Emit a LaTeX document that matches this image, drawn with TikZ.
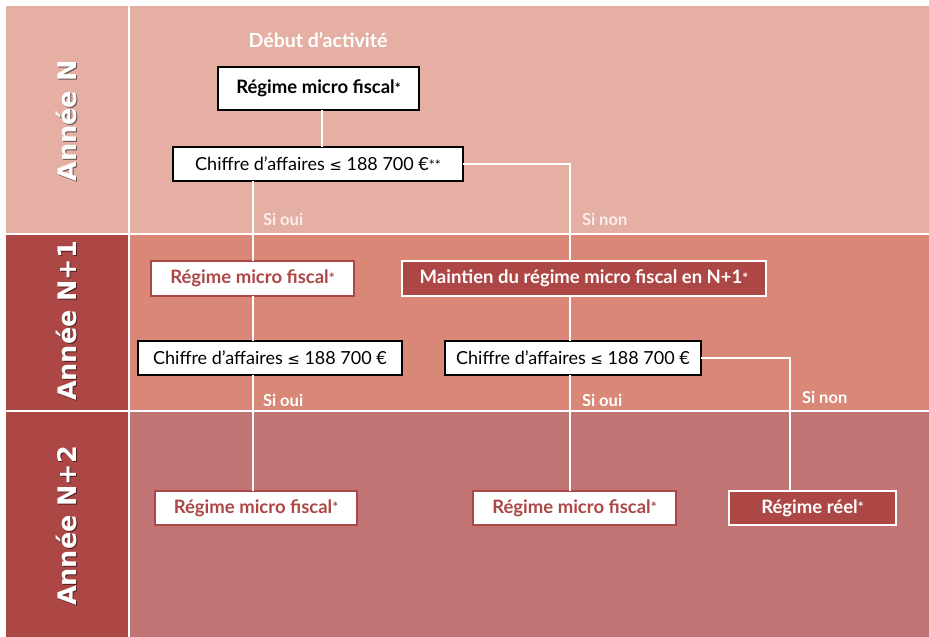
\documentclass[tikz,border=0pt]{standalone}
\usepackage{fontspec}
\setmainfont{Lato}
\newfontfamily\symf{DejaVu Sans}
\newfontfamily\yearf{DejaVu Sans}
\usetikzlibrary{calc}
\definecolor{rowA}{HTML}{E5AFA4}
\definecolor{rowB}{HTML}{D98878}
\definecolor{rowC}{HTML}{C07473}
\definecolor{dred}{HTML}{AD4746}
\newcommand{\st}{{\fontsize{14}{14}\selectfont\raisebox{0.5pt}{*}}}
\newcommand{\leqsym}{{\symf\fontsize{15}{15}\selectfont ≤}}
\begin{document}
\begin{tikzpicture}[x=1pt,y=-1pt,
 every node/.style={inner sep=0pt, outer sep=0pt},
 blackbox/.style={draw=black, line width=2.4pt, fill=white, text=black, font=\fontsize{18}{20}\selectfont},
 redbox/.style={draw=dred, line width=2.6pt, fill=white, text=dred, font=\bfseries\fontsize{18.5}{20}\selectfont},
 darkbox/.style={draw=white, line width=2.4pt, fill=dred, text=white, font=\bfseries\fontsize{18.5}{20}\selectfont},
 link/.style={draw=white, line width=2pt},
 lab/.style={anchor=west, text=white, font=\bfseries\fontsize{16.5}{18}\selectfont},
 labA/.style={lab, text=white!80!rowA},
 yearlab/.style={rotate=90, text=white, font=\yearf\bfseries\fontsize{25.5}{30}\selectfont},
 yearsh/.style={rotate=90, text=black, opacity=0.55, font=\yearf\bfseries\fontsize{25.5}{30}\selectfont}
]
\useasboundingbox (0,0) rectangle (929,637);
% background
\fill[white] (0,0) rectangle (929,637);
\fill[rowA] (6,6) rectangle (929,234);
\fill[rowB] (6,234) rectangle (929,410.5);
\fill[rowC] (6,410.5) rectangle (929,637);
\fill[dred] (6,234) rectangle (128.5,637);
\draw[white, line width=2pt] (6,234) -- (929,234);
\draw[white, line width=2pt] (6,410.5) -- (929,410.5);
\draw[white, line width=2pt] (128.5,6) -- (128.5,637);
% year labels
\node[yearsh] at (67.5,122) {Année N};
\node[yearlab] (yN) at (66,121) {Année N};
\node[yearsh] at (67.5,322) {Année N+1};
\node[yearlab] (yN1) at (66,321) {Année N+1};
\node[yearsh] at (67.5,527) {Année N+2};
\node[yearlab] (yN2) at (66,526) {Année N+2};
% title
\node[text=white, font=\bfseries\fontsize{19.5}{22}\selectfont] (start) at (318,40) {Début d’activité};
% boxes
\node[blackbox, font=\bfseries\fontsize{18.5}{20}\selectfont, minimum width=201, minimum height=43] (b1) at (318.5,88.5) {Régime micro fiscal\st};
\node[blackbox, minimum width=290, minimum height=34] (b2) at (318,164) {Chiffre d’affaires \leqsym{} 188 700 €\st\st};
\node[redbox, minimum width=203, minimum height=35] (b3) at (252.5,278.5) {Régime micro fiscal\st};
\node[darkbox, minimum width=364, minimum height=35] (b4) at (584,278.5) {Maintien du régime micro fiscal en N+1\st};
\node[blackbox, minimum width=264, minimum height=34] (b5) at (270,358) {Chiffre d’affaires \leqsym{} 188 700 €};
\node[blackbox, minimum width=256, minimum height=34] (b6) at (573,358) {Chiffre d’affaires \leqsym{} 188 700 €};
\node[redbox, minimum width=202, minimum height=34] (b7) at (256,508) {Régime micro fiscal\st};
\node[redbox, minimum width=203, minimum height=34] (b8) at (574.5,508) {Régime micro fiscal\st};
\node[darkbox, minimum width=167, minimum height=34] (b9) at (812.5,508) {Régime réel\st};
% spine coordinates
\coordinate (sp) at (570,0);
\coordinate (sp2) at (790,0);
\coordinate (sl) at (252.5,0);
% connectors
\draw[link] ([xshift=3.5pt]b1.south) -- ([xshift=3.5pt]b1.south |- b2.north);
\draw[link] (sl |- b2.south) -- (sl |- b3.north);
\draw[link] (b2.east) -| (sp |- b4.north);
\draw[link] (sl |- b3.south) -- (sl |- b5.north);
\draw[link] (sl |- b5.south) -- (sl |- b7.north);
\draw[link] (sp |- b4.south) -- (sp |- b6.north);
\draw[link] (sp |- b6.south) -- (sp |- b8.north);
\draw[link] (b6.east) -| (sp2 |- b9.north);
% labels
\node[labA] (l1) at (263,219) {Si oui};
\node[labA] (l2) at (582,219) {Si non};
\node[lab] (l3) at (263,400) {Si oui};
\node[lab] (l4) at (582,400) {Si oui};
\node[lab] (l5) at (802,397) {Si non};
\end{tikzpicture}
\end{document}
